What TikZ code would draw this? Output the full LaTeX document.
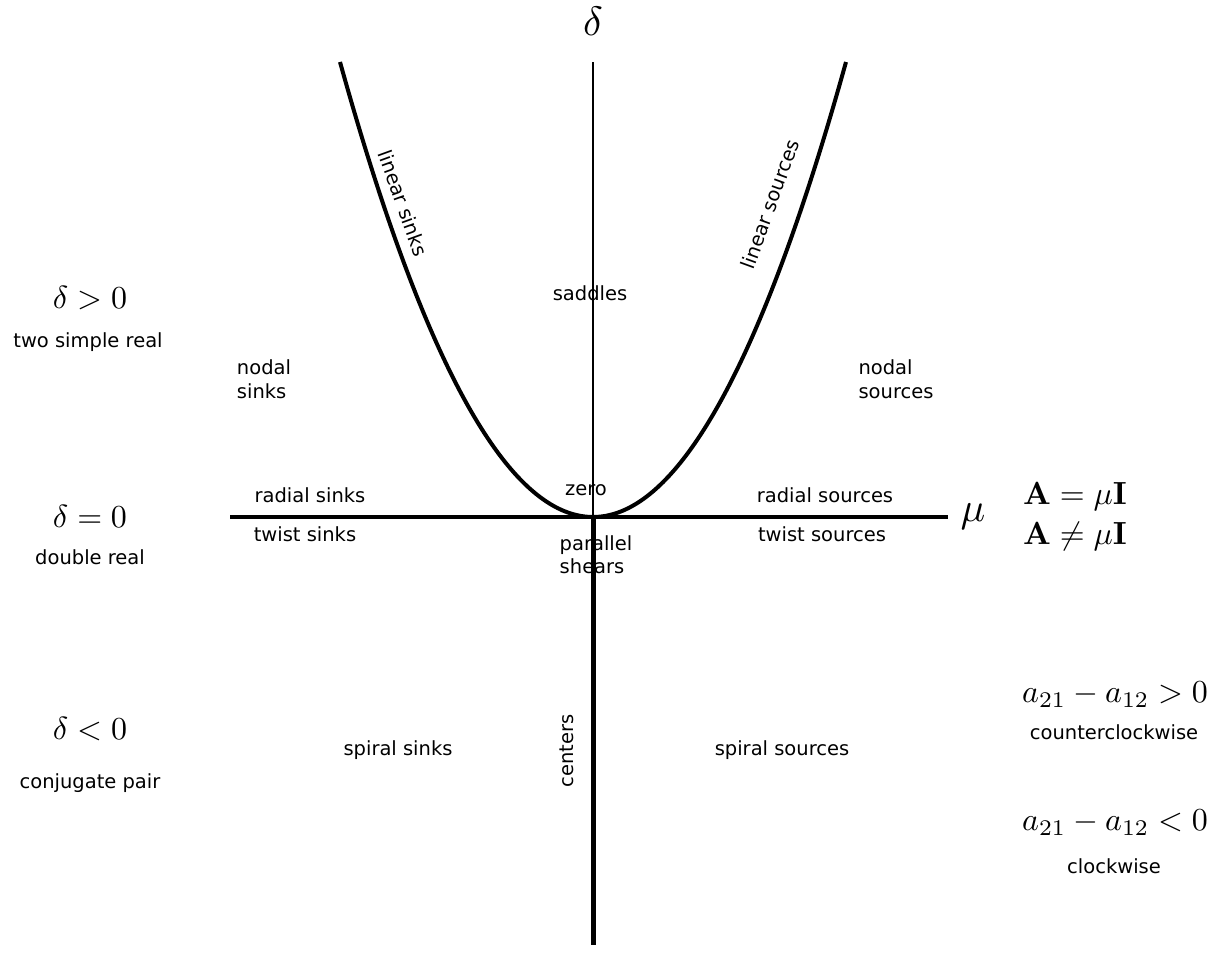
\documentclass[tikz,border=0pt]{standalone}
\usepackage[no-math]{fontspec}
\newfontfamily\dvs{DejaVu Sans}
\begin{document}
\begin{tikzpicture}[x=1pt,y=-1pt,
  lbl/.style={font=\dvs\fontsize{19.5}{24}\selectfont, inner sep=0pt, text height=14pt, text depth=4pt},
  mlbl/.style={scale=3.2, inner sep=0pt},
  axlbl/.style={scale=4.1, inner sep=0pt},
  thickline/.style={line width=4pt},
  thinline/.style={line width=1.3pt}]
\useasboundingbox (0,0) rectangle (1221,973);
% axes
\coordinate (O) at (593,517);
\coordinate (L) at (230,517);
\coordinate (R) at (948,517);
\coordinate (T) at (593,62);
\coordinate (B) at (593,945);
\draw[thinline] (O) -- (T);
\draw[thickline] (L) -- (R);
\draw[line width=5pt] (O) -- (B);
% parabola
\draw[line width=4pt, line join=round] plot[smooth, samples=81, domain=-253:253] ({593+\x},{517-455*(\x/253)*(\x/253)});
% axis labels
\node[axlbl] (delta) at (593,21) {$\delta$};
\node[axlbl] (mu) at (973,517) {$\mu$};
% left column
\node[mlbl] (dpos) at (90,298) {$\delta>0$};
\node[lbl] (tsr) at (88,343) {two simple real};
\node[mlbl] (dzero) at (90,516) {$\delta=0$};
\node[lbl] (dr) at (90,559) {double real};
\node[mlbl] (dneg) at (90,729) {$\delta<0$};
\node[lbl] (cp) at (90,783) {conjugate pair};
% regions
\node[lbl] (saddles) at (590,296) {saddles};
\node[lbl, align=left] (nsinks) at (264,394) {nodal\\sinks};
\node[lbl, align=left] (nsources) at (896,394) {nodal\\sources};
\node[lbl] (rsinks) at (310,497) {radial sinks};
\node[lbl] (tsinks) at (305,536) {twist sinks};
\node[lbl] (zero) at (586,490) {zero};
\node[lbl] (rsources) at (825,497) {radial sources};
\node[lbl] (tsources) at (822,536) {twist sources};
\node[lbl, align=left, font=\dvs\fontsize{19.5}{23}\selectfont] (pshears) at (596,568) {parallel\\shears};
\node[lbl] (ssinks) at (398,750) {spiral sinks};
\node[lbl] (ssources) at (782,750) {spiral sources};
\node[lbl, rotate=90] (centers) at (568,751) {centers};
\node[lbl, rotate=-70] (lsinks) at (401,204) {linear sinks};
\node[lbl, rotate=70] (lsources) at (772,205) {linear sources};
% right column
\node[mlbl] (aeq) at (1075,497) {$\mathbf{A}=\mu\mathbf{I}$};
\node[mlbl] (aneq) at (1075,536) {$\mathbf{A}\neq\mu\mathbf{I}$};
\node[mlbl] (apos) at (1115,695) {$a_{21}-a_{12}>0$};
\node[lbl] (ccw) at (1114,734) {counterclockwise};
\node[mlbl] (aneg) at (1115,823) {$a_{21}-a_{12}<0$};
\node[lbl] (cw) at (1114,868) {clockwise};
\end{tikzpicture}
\end{document}
